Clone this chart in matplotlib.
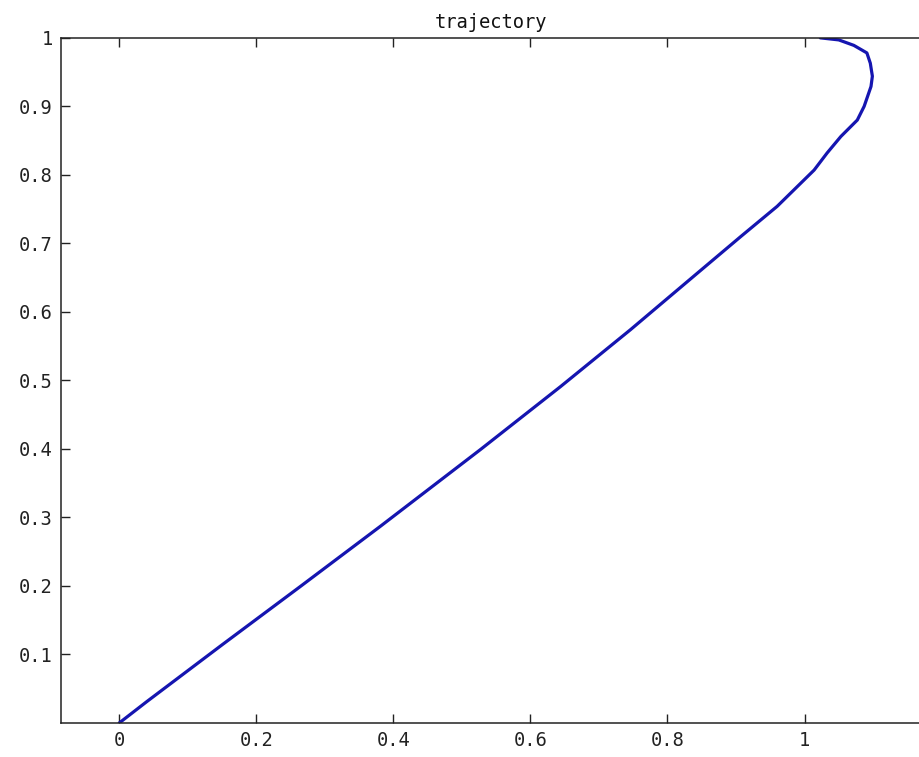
import matplotlib
matplotlib.use("Agg")
import matplotlib.pyplot as plt
import numpy as np

# ── Data ───────────────────────────────────────────────────────────────────────
traj_x = [0.000, 0.040, 0.150, 0.264, 0.381, 0.527, 0.644, 0.746, 0.843,
          0.907, 0.960, 1.014, 1.033, 1.053, 1.077, 1.087, 1.097, 1.099,
          1.096, 1.091, 1.072, 1.050, 1.023]
traj_y = [0.000, 0.031, 0.114, 0.199, 0.287, 0.399, 0.491, 0.574, 0.656,
          0.710, 0.754, 0.807, 0.832, 0.856, 0.880, 0.900, 0.929, 0.944,
          0.963, 0.978, 0.989, 0.997, 1.000]

xticks = [0, 0.2, 0.4, 0.6, 0.8, 1]
xtick_labels = ["0", "0.2", "0.4", "0.6", "0.8", "1"]
yticks = [0.1, 0.2, 0.3, 0.4, 0.5, 0.6, 0.7, 0.8, 0.9, 1]
ytick_labels = ["0.1", "0.2", "0.3", "0.4", "0.5", "0.6", "0.7", "0.8", "0.9", "1"]

LINE = "#1515b0"
FONT = "DejaVu Sans Mono"

# ── Figure ─────────────────────────────────────────────────────────────────────
fig = plt.figure(figsize=(9.19, 7.57), dpi=100, facecolor="white")
# axes run slightly past the right edge (reference is cropped there)
ax = fig.add_axes([0.0664, 0.045, 0.9358, 0.905])

ax.plot(traj_x, traj_y, color=LINE, lw=2.3, solid_joinstyle="round",
        solid_capstyle="round")

ax.set_xlim(-0.085, 1.17)
ax.set_ylim(0, 1)

ax.set_xticks(xticks)
ax.set_xticklabels(xtick_labels, family=FONT, fontsize=13.5)
ax.set_yticks(yticks)
ax.set_yticklabels(ytick_labels, family=FONT, fontsize=13.5)

ax.tick_params(direction="in", length=6.5, width=1, color="#222",
               top=True, right=False, pad=6, labelcolor="#222")

for sp in ax.spines.values():
    sp.set_color("#222")
    sp.set_linewidth(1.1)

ax.set_title("trajectory", family=FONT, fontsize=13.5, color="#111", pad=7)

plt.savefig("out.png", dpi=100, facecolor="white")
plt.close()
